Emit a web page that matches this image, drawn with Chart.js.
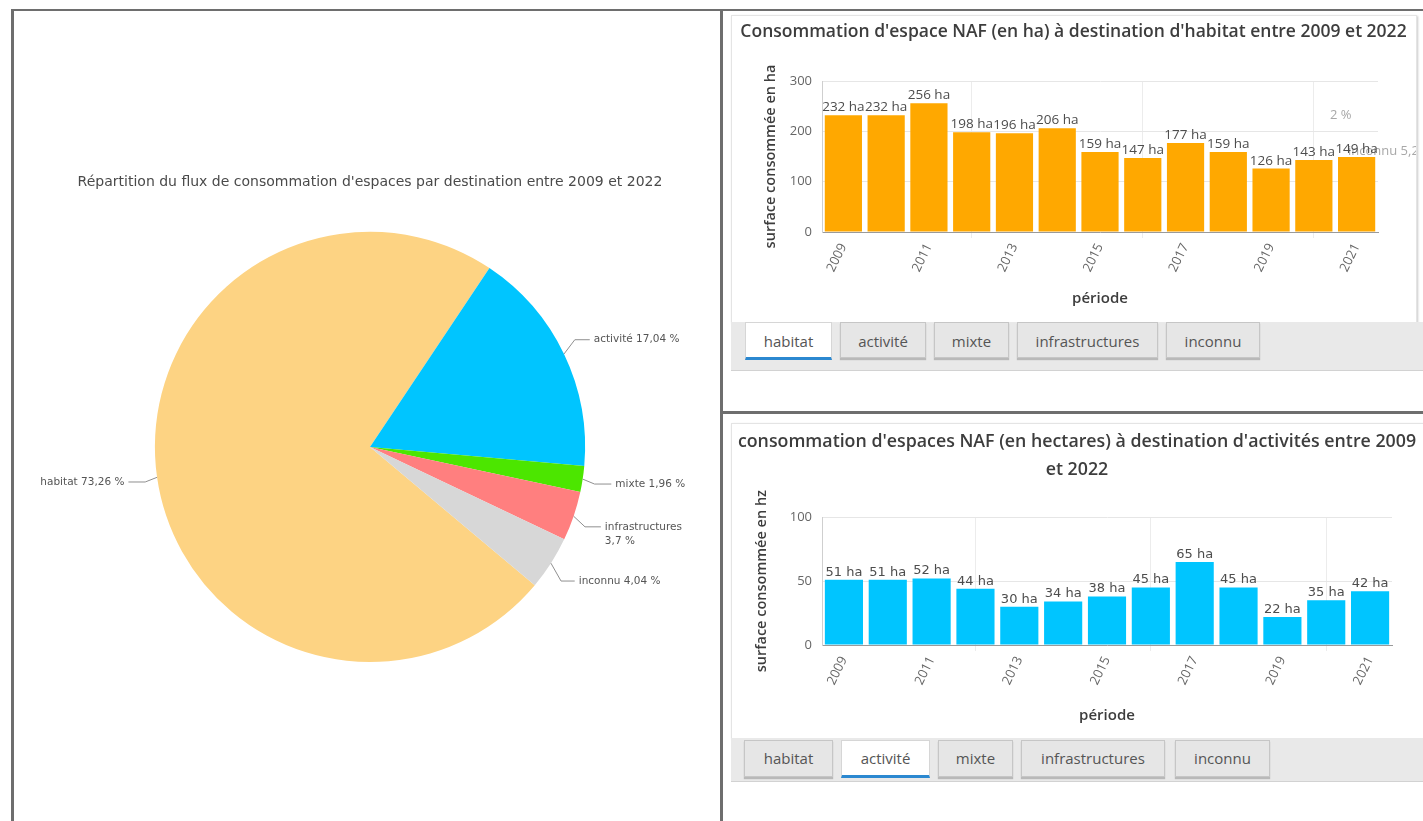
<!DOCTYPE html>
<html lang="fr">
<head>
<meta charset="utf-8">
<title>Consommation d'espaces NAF 2009-2022</title>
<script src="https://cdn.jsdelivr.net/npm/chart.js@4.4.1/dist/chart.umd.min.js"></script>
<style>
  html, body { margin: 0; padding: 0; background: #fff; }
  body { width: 1423px; height: 821px; position: relative; overflow: hidden; font-family: "Open Sans", sans-serif; }
  .line { position: absolute; background: #6e6e6e; }
  .card { position: absolute; background: #fff; border: 1px solid #e4e4e4; box-shadow: 1px 1px 2px #c9c9c9; box-sizing: border-box; }
  .strip { position: absolute; background: #e9e9e9; border-bottom: 1px solid #d2d2d2; box-sizing: border-box; }
  .tab { position: absolute; box-sizing: border-box; background: #e6e6e6; border: 1px solid #c6c6c6; box-shadow: 0 2px 1px #b9b9b9;
         font-size: 15px; color: #555; text-align: center; }
  .tab.active { background: #fff; border-color: #d6d6d6; box-shadow: none; border-bottom: 3px solid #2b88d0; }
  canvas { position: absolute; }
</style>
</head>
<body>

<!-- frame -->
<div class="line" style="left:11px;top:9px;width:1412px;height:2px;"></div>
<div class="line" style="left:11px;top:9px;width:3px;height:812px;"></div>
<div class="line" style="left:720px;top:9px;width:3px;height:812px;"></div>
<div class="line" style="left:720px;top:411px;width:703px;height:3px;"></div>

<!-- top right panel -->
<div class="card" style="left:731px;top:15px;width:686px;height:308px;"></div>
<div class="strip" style="left:731px;top:322px;width:692px;height:49px;"></div>
<div class="tab active" style="left:745px;top:322px;width:87px;height:38px;line-height:36px;">habitat</div>
<div class="tab" style="left:840px;top:322px;width:86px;height:36px;line-height:36px;">activité</div>
<div class="tab" style="left:934px;top:322px;width:75px;height:36px;line-height:36px;">mixte</div>
<div class="tab" style="left:1017px;top:322px;width:141px;height:36px;line-height:36px;">infrastructures</div>
<div class="tab" style="left:1166px;top:322px;width:94px;height:36px;line-height:36px;">inconnu</div>

<!-- bottom right panel -->
<div class="card" style="left:731px;top:423px;width:700px;height:316px;"></div>
<div class="strip" style="left:731px;top:738px;width:692px;height:44px;"></div>
<div class="tab" style="left:744px;top:740px;width:89px;height:37px;line-height:35px;">habitat</div>
<div class="tab active" style="left:841px;top:740px;width:89px;height:38px;line-height:35px;">activité</div>
<div class="tab" style="left:938px;top:740px;width:75px;height:37px;line-height:35px;">mixte</div>
<div class="tab" style="left:1021px;top:740px;width:144px;height:37px;line-height:35px;">infrastructures</div>
<div class="tab" style="left:1175px;top:740px;width:95px;height:37px;line-height:35px;">inconnu</div>

<canvas id="pieChart" width="706" height="809" style="left:14px;top:12px;"></canvas>
<canvas id="habitatChart" width="685" height="307" style="left:731px;top:15px;"></canvas>
<canvas id="activiteChart" width="692" height="313" style="left:731px;top:425px;"></canvas>

<script>
// --- data ---
const years = ['2009', '2010', '2011', '2012', '2013', '2014', '2015', '2016', '2017', '2018', '2019', '2020', '2021'];
const habitatHa = [232, 232, 256, 198, 196, 206, 159, 147, 177, 159, 126, 143, 149];
const activiteHa = [51, 51, 52, 44, 30, 34, 38, 45, 65, 45, 22, 35, 42];

const destinations = ['habitat', 'activité', 'mixte', 'infrastructures', 'inconnu'];
const sharePct = [73.26, 17.04, 1.96, 3.7, 4.04];
const destColors = ['#fdd383', '#00c5ff', '#4ce600', '#ff7f7f', '#d7d7d7'];

const habitatTicks = { max: 300, step: 100 };
const activiteTicks = { max: 100, step: 50 };

Chart.defaults.font.family = '"Open Sans", sans-serif';
Chart.defaults.color = '#666';

const frNum = v => v.toLocaleString('fr-FR');

// Outside labels with leader lines for the pie
const pieLabels = {
    id: 'pieLabels',
    afterDatasetsDraw(chart) {
        const ctx = chart.ctx;
        const meta = chart.getDatasetMeta(0);
        const labels = chart.data.labels;
        const values = chart.data.datasets[0].data;
        ctx.save();
        ctx.font = '10.5px "DejaVu Sans", sans-serif';
        ctx.fillStyle = '#555';
        ctx.strokeStyle = '#8f8f8f';
        ctx.lineWidth = 1;
        ctx.textBaseline = 'middle';
        meta.data.forEach((arc, i) => {
            const mid = (arc.startAngle + arc.endAngle) / 2;
            const r = arc.outerRadius;
            const R = r + 33;
            const cos = Math.cos(mid), sin = Math.sin(mid);
            const right = cos >= 0;
            const sx = arc.x + cos * r, sy = arc.y + sin * r;
            const lx = arc.x + cos * R, ly = arc.y + sin * R;
            const ex = right ? lx - 4 : lx + 4;
            ctx.beginPath();
            ctx.moveTo(sx, sy);
            ctx.lineTo(sx + cos * 12, ly);
            ctx.lineTo(ex, ly);
            ctx.stroke();

            const full = labels[i] + ' ' + frNum(values[i]) + ' %';
            const lines = ctx.measureText(full).width > 100 ? [labels[i], frNum(values[i]) + ' %'] : [full];
            ctx.textAlign = right ? 'left' : 'right';
            lines.forEach((t, k) => ctx.fillText(t, lx, ly + k * 14));
        });
        ctx.restore();
    }
};

// value labels on top of bars, plus the leftover ghost texts
const barLabels = {
    id: 'barLabels',
    afterDatasetsDraw(chart, args, opts) {
        const ctx = chart.ctx;
        const meta = chart.getDatasetMeta(0);
        const values = chart.data.datasets[0].data;
        ctx.save();
        (opts.ghosts || []).forEach(g => {
            ctx.font = '13px "Open Sans", sans-serif';
            ctx.fillStyle = '#a8a8a8';
            ctx.textAlign = 'left';
            ctx.textBaseline = 'middle';
            ctx.fillText(g.text, chart.chartArea.left + g.dx, chart.chartArea.top + g.dy);
        });
        ctx.font = opts.font;
        ctx.fillStyle = '#4d4d4d';
        ctx.textAlign = 'center';
        ctx.textBaseline = 'bottom';
        meta.data.forEach((bar, i) => {
            ctx.fillText(values[i] + ' ha', bar.x, bar.y - 1);
        });
        ctx.restore();
    }
};

new Chart(document.getElementById('pieChart'), {
    type: 'pie',
    data: {
        labels: destinations,
        datasets: [{
            data: sharePct,
            backgroundColor: destColors,
            borderWidth: 0,
            hoverOffset: 0
        }]
    },
    options: {
        responsive: false,
        animation: false,
        rotation: 130,
        // wide chart area so the title is not squeezed; the pie keeps radius = height / 2
        layout: { padding: { left: 40, right: 34, top: 162, bottom: 159 } },
        plugins: {
            legend: { display: false },
            tooltip: { enabled: false },
            title: {
                display: true,
                text: "Répartition du flux de consommation d'espaces par destination entre 2009 et 2022",
                color: '#4a4a4a',
                font: { family: '"DejaVu Sans", sans-serif', size: 14, weight: 'normal' },
                padding: { top: 0, bottom: 41 }
            }
        }
    },
    plugins: [pieLabels]
});

function barChart(id, opts) {
    return new Chart(document.getElementById(id), {
        type: 'bar',
        data: {
            labels: years,
            datasets: [{
                data: opts.values,
                backgroundColor: opts.color,
                categoryPercentage: 1,
                barPercentage: 0.87
            }]
        },
        options: {
            responsive: false,
            animation: false,
            layout: { padding: { left: 0, right: 0, top: 0, bottom: opts.padBottom } },
            plugins: {
                legend: { display: false },
                tooltip: { enabled: false },
                title: {
                    display: true,
                    text: opts.title,
                    color: '#3d3d3d',
                    font: { size: opts.titleSize, weight: '600', lineHeight: opts.titleLineHeight },
                    padding: opts.titlePadding
                },
                barLabels: { font: opts.labelFont, ghosts: opts.ghosts }
            },
            scales: {
                x: {
                    afterFit: s => { s.height = opts.xHeight; },
                    grid: { color: '#ececec', tickLength: 6 },
                    border: { color: '#9a9a9a' },
                    ticks: { autoSkip: true, maxTicksLimit: 7, minRotation: 64, maxRotation: 64, color: '#666', font: { size: 13 } },
                    title: { display: true, text: 'période', color: '#3d3d3d', font: { size: 15, weight: '600' } }
                },
                y: {
                    min: 0,
                    max: opts.ticks.max,
                    afterFit: s => { s.width = opts.yWidth; },
                    grid: { color: '#e6e6e6', drawTicks: false },
                    border: { color: '#cfcfcf' },
                    ticks: { stepSize: opts.ticks.step, padding: 10, color: '#666', font: { size: 13 } },
                    title: { display: true, text: opts.yTitle, color: '#3d3d3d', font: { size: 14.5, weight: '600' },
                             padding: { top: opts.yTitleGap, bottom: 4 } }
                },
                // empty right-hand axis that only reserves the right margin
                yRight: {
                    type: 'linear',
                    position: 'right',
                    afterFit: s => { s.width = opts.rightGap; },
                    grid: { display: false },
                    border: { display: false },
                    ticks: { display: false }
                }
            }
        },
        plugins: [barLabels]
    });
}

barChart('habitatChart', {
    values: habitatHa,
    color: '#ffa800',
    title: "Consommation d'espace NAF (en ha) à destination d'habitat entre 2009 et 2022",
    titleSize: 17.5,
    titleLineHeight: 1.2,
    titlePadding: { top: 7, bottom: 38 },
    padBottom: 10,
    yWidth: 91,
    yTitleGap: 31,
    rightGap: 38,
    xHeight: 80,
    ticks: habitatTicks,
    yTitle: 'surface consommée en ha',
    labelFont: '13.5px "Open Sans", sans-serif',
    ghosts: [{ text: '2 %', dx: 508, dy: 34 }, { text: 'inconnu 5,2', dx: 526, dy: 70 }]
});

barChart('activiteChart', {
    values: activiteHa,
    color: '#00c5ff',
    title: ["consommation d'espaces NAF (en hectares) à destination d'activités entre 2009", 'et 2022'],
    titleSize: 17.8,
    titleLineHeight: 1.58,
    titlePadding: { top: 3, bottom: 33 },
    padBottom: 9,
    yWidth: 91,
    yTitleGap: 22,
    rightGap: 31,
    xHeight: 84,
    ticks: activiteTicks,
    yTitle: 'surface consommée en hz',
    labelFont: '13px "DejaVu Sans", sans-serif',
    ghosts: []
});
</script>
</body>
</html>
